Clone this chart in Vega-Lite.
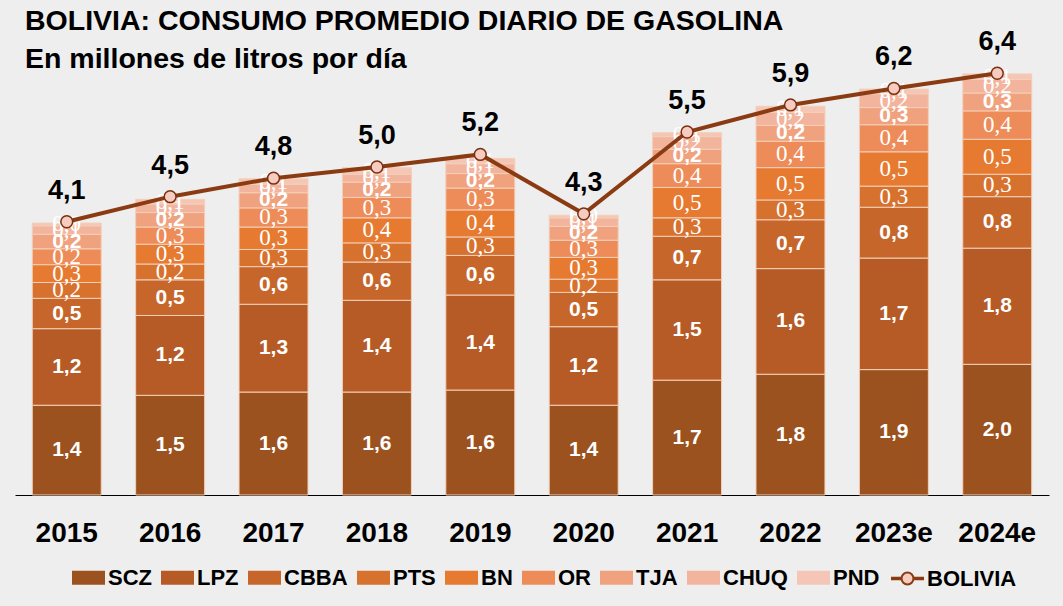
{
  "$schema": "https://vega.github.io/schema/vega-lite/v6.json",
  "width": 1034,
  "height": 429,
  "autosize": {"type": "none"},
  "padding": {"left": 15, "top": 66, "right": 14, "bottom": 111},
  "background": "#eeeeee",
  "title": {
    "text": "BOLIVIA: CONSUMO PROMEDIO DIARIO DE GASOLINA",
    "subtitle": "En millones de litros por día",
    "anchor": "start",
    "frame": "group",
    "font": "Liberation Sans",
    "fontSize": 28.5,
    "fontWeight": "bold",
    "color": "#000000",
    "subtitleFont": "Liberation Sans",
    "subtitleFontSize": 28.5,
    "subtitleFontWeight": "bold",
    "subtitleColor": "#000000",
    "subtitlePadding": 9,
    "offset": -45,
    "dx": 10
  },
  "config": {
    "view": {"stroke": null},
    "font": "Liberation Sans",
    "locale": {"number": {"decimal": ",", "thousands": ".", "grouping": [3], "currency": ["", ""]}}
  },
  "datasets": {
    "seg": [
      {"anio": "2015", "serie": "SCZ", "valor": 1.36}, {"anio": "2015", "serie": "LPZ", "valor": 1.16}, {"anio": "2015", "serie": "CBBA", "valor": 0.46}, {"anio": "2015", "serie": "PTS", "valor": 0.24}, {"anio": "2015", "serie": "BN", "valor": 0.27}, {"anio": "2015", "serie": "OR", "valor": 0.24}, {"anio": "2015", "serie": "TJA", "valor": 0.22}, {"anio": "2015", "serie": "CHUQ", "valor": 0.13}, {"anio": "2015", "serie": "PND", "valor": 0.04},
      {"anio": "2016", "serie": "SCZ", "valor": 1.51}, {"anio": "2016", "serie": "LPZ", "valor": 1.21}, {"anio": "2016", "serie": "CBBA", "valor": 0.54}, {"anio": "2016", "serie": "PTS", "valor": 0.24}, {"anio": "2016", "serie": "BN", "valor": 0.30}, {"anio": "2016", "serie": "OR", "valor": 0.26}, {"anio": "2016", "serie": "TJA", "valor": 0.22}, {"anio": "2016", "serie": "CHUQ", "valor": 0.13}, {"anio": "2016", "serie": "PND", "valor": 0.07},
      {"anio": "2017", "serie": "SCZ", "valor": 1.56}, {"anio": "2017", "serie": "LPZ", "valor": 1.33}, {"anio": "2017", "serie": "CBBA", "valor": 0.57}, {"anio": "2017", "serie": "PTS", "valor": 0.26}, {"anio": "2017", "serie": "BN", "valor": 0.34}, {"anio": "2017", "serie": "OR", "valor": 0.29}, {"anio": "2017", "serie": "TJA", "valor": 0.23}, {"anio": "2017", "serie": "CHUQ", "valor": 0.13}, {"anio": "2017", "serie": "PND", "valor": 0.08},
      {"anio": "2018", "serie": "SCZ", "valor": 1.56}, {"anio": "2018", "serie": "LPZ", "valor": 1.39}, {"anio": "2018", "serie": "CBBA", "valor": 0.58}, {"anio": "2018", "serie": "PTS", "valor": 0.29}, {"anio": "2018", "serie": "BN", "valor": 0.38}, {"anio": "2018", "serie": "OR", "valor": 0.31}, {"anio": "2018", "serie": "TJA", "valor": 0.23}, {"anio": "2018", "serie": "CHUQ", "valor": 0.12}, {"anio": "2018", "serie": "PND", "valor": 0.10},
      {"anio": "2019", "serie": "SCZ", "valor": 1.59}, {"anio": "2019", "serie": "LPZ", "valor": 1.44}, {"anio": "2019", "serie": "CBBA", "valor": 0.60}, {"anio": "2019", "serie": "PTS", "valor": 0.28}, {"anio": "2019", "serie": "BN", "valor": 0.41}, {"anio": "2019", "serie": "OR", "valor": 0.33}, {"anio": "2019", "serie": "TJA", "valor": 0.22}, {"anio": "2019", "serie": "CHUQ", "valor": 0.15}, {"anio": "2019", "serie": "PND", "valor": 0.08},
      {"anio": "2020", "serie": "SCZ", "valor": 1.36}, {"anio": "2020", "serie": "LPZ", "valor": 1.19}, {"anio": "2020", "serie": "CBBA", "valor": 0.52}, {"anio": "2020", "serie": "PTS", "valor": 0.20}, {"anio": "2020", "serie": "BN", "valor": 0.33}, {"anio": "2020", "serie": "OR", "valor": 0.26}, {"anio": "2020", "serie": "TJA", "valor": 0.21}, {"anio": "2020", "serie": "CHUQ", "valor": 0.13}, {"anio": "2020", "serie": "PND", "valor": 0.04},
      {"anio": "2021", "serie": "SCZ", "valor": 1.74}, {"anio": "2021", "serie": "LPZ", "valor": 1.52}, {"anio": "2021", "serie": "CBBA", "valor": 0.66}, {"anio": "2021", "serie": "PTS", "valor": 0.28}, {"anio": "2021", "serie": "BN", "valor": 0.46}, {"anio": "2021", "serie": "OR", "valor": 0.36}, {"anio": "2021", "serie": "TJA", "valor": 0.22}, {"anio": "2021", "serie": "CHUQ", "valor": 0.19}, {"anio": "2021", "serie": "PND", "valor": 0.06},
      {"anio": "2022", "serie": "SCZ", "valor": 1.83}, {"anio": "2022", "serie": "LPZ", "valor": 1.60}, {"anio": "2022", "serie": "CBBA", "valor": 0.74}, {"anio": "2022", "serie": "PTS", "valor": 0.30}, {"anio": "2022", "serie": "BN", "valor": 0.49}, {"anio": "2022", "serie": "OR", "valor": 0.40}, {"anio": "2022", "serie": "TJA", "valor": 0.24}, {"anio": "2022", "serie": "CHUQ", "valor": 0.20}, {"anio": "2022", "serie": "PND", "valor": 0.09},
      {"anio": "2023e", "serie": "SCZ", "valor": 1.90}, {"anio": "2023e", "serie": "LPZ", "valor": 1.69}, {"anio": "2023e", "serie": "CBBA", "valor": 0.77}, {"anio": "2023e", "serie": "PTS", "valor": 0.32}, {"anio": "2023e", "serie": "BN", "valor": 0.52}, {"anio": "2023e", "serie": "OR", "valor": 0.41}, {"anio": "2023e", "serie": "TJA", "valor": 0.26}, {"anio": "2023e", "serie": "CHUQ", "valor": 0.21}, {"anio": "2023e", "serie": "PND", "valor": 0.07},
      {"anio": "2024e", "serie": "SCZ", "valor": 1.98}, {"anio": "2024e", "serie": "LPZ", "valor": 1.76}, {"anio": "2024e", "serie": "CBBA", "valor": 0.78}, {"anio": "2024e", "serie": "PTS", "valor": 0.34}, {"anio": "2024e", "serie": "BN", "valor": 0.53}, {"anio": "2024e", "serie": "OR", "valor": 0.43}, {"anio": "2024e", "serie": "TJA", "valor": 0.27}, {"anio": "2024e", "serie": "CHUQ", "valor": 0.21}, {"anio": "2024e", "serie": "PND", "valor": 0.08}
    ],
    "tot": [
      {"anio": "2015", "serie": "BOLIVIA", "valor": 4.14}, {"anio": "2016", "serie": "BOLIVIA", "valor": 4.52}, {"anio": "2017", "serie": "BOLIVIA", "valor": 4.80}, {"anio": "2018", "serie": "BOLIVIA", "valor": 4.97}, {"anio": "2019", "serie": "BOLIVIA", "valor": 5.16},
      {"anio": "2020", "serie": "BOLIVIA", "valor": 4.26}, {"anio": "2021", "serie": "BOLIVIA", "valor": 5.50}, {"anio": "2022", "serie": "BOLIVIA", "valor": 5.91}, {"anio": "2023e", "serie": "BOLIVIA", "valor": 6.16}, {"anio": "2024e", "serie": "BOLIVIA", "valor": 6.39}
    ]
  },
  "encoding": {
    "x": {
      "field": "anio",
      "type": "nominal",
      "sort": ["2015", "2016", "2017", "2018", "2019", "2020", "2021", "2022", "2023e", "2024e"],
      "scale": {"paddingInner": 0.333, "paddingOuter": 0.167},
      "axis": {
        "title": null,
        "labelAngle": 0,
        "ticks": false,
        "tickSize": 0,
        "domain": true,
        "domainColor": "#000000",
        "domainWidth": 1,
        "grid": false,
        "labelFont": "Liberation Sans",
        "labelFontSize": 28,
        "labelFontWeight": "bold",
        "labelColor": "#000000",
        "labelPadding": 24
      }
    }
  },
  "layer": [
    {
      "data": {"name": "seg"},
      "transform": [
        {"calculate": "indexof(['SCZ','LPZ','CBBA','PTS','BN','OR','TJA','CHUQ','PND'], datum.serie)", "as": "k"},
        {"stack": "valor", "groupby": ["anio"], "sort": [{"field": "k", "order": "ascending"}], "as": ["v0", "v1"]}
      ],
      "mark": {"type": "bar", "stroke": "#f3cfb8", "strokeWidth": 1},
      "encoding": {
        "y": {"field": "v0", "type": "quantitative", "scale": {"domain": [0, 6.5], "nice": false, "zero": true}, "axis": null},
        "y2": {"field": "v1"},
        "color": {
          "field": "serie",
          "type": "nominal",
          "scale": {
            "domain": ["SCZ", "LPZ", "CBBA", "PTS", "BN", "OR", "TJA", "CHUQ", "PND"],
            "range": ["#9c521e", "#b65b26", "#c6662b", "#d7712e", "#e67a31", "#ed8c58", "#f0a27f", "#f3b49e", "#f5c6b6"]
          },
          "legend": {
            "orient": "none",
            "legendX": 57,
            "legendY": 495,
            "direction": "horizontal",
            "title": null,
            "padding": 0,
            "symbolType": "M-1,-0.42H1V0.42H-1Z",
            "symbolSize": 1089,
            "symbolStrokeWidth": 0,
            "labelFont": "Liberation Sans",
            "labelFontSize": 22,
            "labelFontWeight": "bold",
            "labelColor": "#000000",
            "labelOffset": 3,
            "columnPadding": 9
          }
        }
      }
    },
    {
      "data": {"name": "seg"},
      "transform": [
        {"calculate": "indexof(['SCZ','LPZ','CBBA','PTS','BN','OR','TJA','CHUQ','PND'], datum.serie)", "as": "k"},
        {"stack": "valor", "groupby": ["anio"], "sort": [{"field": "k", "order": "ascending"}], "as": ["v0", "v1"]},
        {"calculate": "(datum.v0 + datum.v1) / 2", "as": "vm"},
        {"filter": "indexof(['SCZ','LPZ','CBBA','TJA'], datum.serie) >= 0"}
      ],
      "mark": {"type": "text", "font": "Liberation Sans", "fontWeight": "bold", "fontSize": 21, "color": "#ffffff", "baseline": "middle", "align": "center"},
      "encoding": {
        "y": {"field": "vm", "type": "quantitative", "axis": null},
        "text": {"field": "valor", "type": "quantitative", "format": ".1f"}
      }
    },
    {
      "data": {"name": "seg"},
      "transform": [
        {"calculate": "indexof(['SCZ','LPZ','CBBA','PTS','BN','OR','TJA','CHUQ','PND'], datum.serie)", "as": "k"},
        {"stack": "valor", "groupby": ["anio"], "sort": [{"field": "k", "order": "ascending"}], "as": ["v0", "v1"]},
        {"calculate": "(datum.v0 + datum.v1) / 2", "as": "vm"},
        {"filter": "indexof(['SCZ','LPZ','CBBA','TJA'], datum.serie) < 0"}
      ],
      "mark": {"type": "text", "font": "Liberation Serif", "fontSize": 23, "color": "#ffffff", "baseline": "middle", "align": "center"},
      "encoding": {
        "y": {"field": "vm", "type": "quantitative", "axis": null},
        "text": {"field": "valor", "type": "quantitative", "format": ".1f"}
      }
    },
    {
      "data": {"name": "tot"},
      "mark": {"type": "line", "strokeWidth": 4},
      "encoding": {
        "y": {"field": "valor", "type": "quantitative", "axis": null},
        "stroke": {
          "field": "serie",
          "type": "nominal",
          "scale": {"domain": ["BOLIVIA"], "range": ["#8a3b12"]},
          "legend": {
            "orient": "none",
            "legendX": 875,
            "legendY": 495,
            "direction": "horizontal",
            "title": null,
            "padding": 0,
            "symbolType": "M-1,-0.05H-0.36M-1,0.05H-0.36M0.36,-0.05H1M0.36,0.05H1M-0.36,0A0.36,0.36 0 1,1 0.36,0A0.36,0.36 0 1,1 -0.36,0Z",
            "symbolSize": 1089,
            "symbolStrokeWidth": 2,
            "symbolFillColor": "#f5ccbf",
            "labelFont": "Liberation Sans",
            "labelFontSize": 22,
            "labelFontWeight": "bold",
            "labelColor": "#000000",
            "labelOffset": 2
          }
        }
      }
    },
    {
      "data": {"name": "tot"},
      "mark": {"type": "point", "shape": "circle", "filled": true, "size": 140, "fill": "#f5ccbf", "stroke": "#7a3010", "strokeWidth": 1.5, "opacity": 1},
      "encoding": {
        "y": {"field": "valor", "type": "quantitative", "axis": null}
      }
    },
    {
      "data": {"name": "tot"},
      "mark": {"type": "text", "font": "Liberation Sans", "fontWeight": "bold", "fontSize": 27, "color": "#000000", "baseline": "alphabetic", "align": "center", "dy": -23},
      "encoding": {
        "y": {"field": "valor", "type": "quantitative", "axis": null},
        "text": {"field": "valor", "type": "quantitative", "format": ".1f"}
      }
    }
  ]
}
